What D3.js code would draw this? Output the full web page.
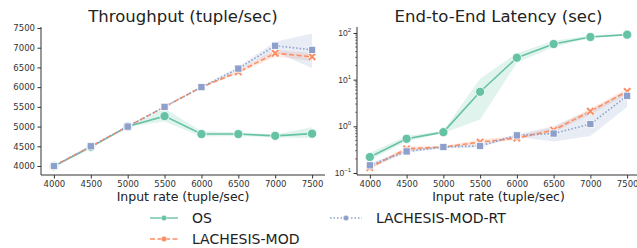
<!DOCTYPE html>
<html><head><meta charset="utf-8">
<script src="https://cdn.jsdelivr.net/npm/d3@7"></script>
<style>body{margin:0;background:#fff}svg{font-family:"DejaVu Sans",sans-serif}</style>
</head><body><svg id="c" width="637" height="248"></svg>
<script>
const rates = [4000,4500,5000,5500,6000,6500,7000,7500];
const seriesNames = ["OS","LACHESIS-MOD","LACHESIS-MOD-RT"];
// Throughput means and CI bounds
const tpOS    = [3995,4480,5000,5265,4810,4810,4765,4820];
const tpOSLo  = [3985,4470,4995,5130,4750,4760,4720,4710];
const tpOSHi  = [4005,4490,5005,5460,4880,4850,4800,4980];
const tpMod   = [4000,4495,5000,5500,6000,6385,6860,6770];
const tpModLo = [3995,4490,4995,5495,5990,6340,6780,6660];
const tpModHi = [4005,4500,5005,5505,6010,6430,6940,6860];
const tpRT    = [4000,4500,5000,5500,6000,6470,7050,6945];
const tpRTLo  = [3995,4495,4995,5495,5990,6420,6900,6480];
const tpRTHi  = [4005,4505,5005,5505,6010,6520,7150,7360];
// Latency means and CI bounds
const latOS    = [0.22,0.54,0.75,5.5,29.5,58,82,92];
const latOSLo  = [0.19,0.47,0.72,1.4,23,50,78,88];
const latOSHi  = [0.27,0.62,0.80,10.5,37,68,88,96];
const latMod   = [0.13,0.33,0.36,0.46,0.56,0.83,2.1,5.6];
const latModLo = [0.12,0.30,0.34,0.42,0.52,0.75,1.8,4.8];
const latModHi = [0.14,0.37,0.38,0.52,0.62,0.95,2.4,6.4];
const latRT    = [0.146,0.29,0.36,0.38,0.64,0.70,1.12,4.5];
const latRTLo  = [0.13,0.27,0.34,0.35,0.60,0.47,0.62,2.6];
const latRTHi  = [0.16,0.32,0.38,0.42,0.68,1.0,2.2,6.0];
const tpTicks = [4000,4500,5000,5500,6000,6500,7000,7500];
const latTicks = [0.1,1,10,100];

const colors = ["#66c2a5","#fc8d62","#8da0cb"];
const dashes = [null,"5,2.5","1.5,2"];
const svg = d3.select("#c");

function marker(g, kind, x, y, c, s) {
  if (kind===0) g.append("circle").attr("cx",x).attr("cy",y).attr("r",4.6*s).attr("fill",c).attr("stroke","#fff").attr("stroke-width",0.8);
  else if (kind===2) g.append("rect").attr("x",x-3.6*s).attr("y",y-3.6*s).attr("width",7.2*s).attr("height",7.2*s).attr("fill",c).attr("stroke","#fff").attr("stroke-width",0.8);
  else {
    const d=3.2*s;
    g.append("path").attr("d",`M${x-d},${y-d}L${x+d},${y+d}M${x-d},${y+d}L${x+d},${y-d}`).attr("stroke","#fff").attr("stroke-width",3.4*s).attr("stroke-linecap","butt");
    g.append("path").attr("d",`M${x-d},${y-d}L${x+d},${y+d}M${x-d},${y+d}L${x+d},${y-d}`).attr("stroke",c).attr("stroke-width",2.0*s);
  }
}

function panel(opts) {
  const {left,right,pTop,pBottom,y,title,data,log} = opts;
  const x = d3.scaleLinear().domain([3825,7675]).range([left,right]);
  const g = svg.append("g");
  data.forEach((d,i)=>{
    const area = d3.area().x((v,j)=>x(rates[j])).y0((v,j)=>y(d.lo[j])).y1((v,j)=>y(d.hi[j]));
    g.append("path").attr("d",area(rates)).attr("fill",colors[i]).attr("opacity",0.2);
  });
  data.forEach((d,i)=>{
    const line = d3.line().x((v,j)=>x(rates[j])).y(v=>y(v));
    g.append("path").attr("d",line(d.m)).attr("fill","none").attr("stroke",colors[i]).attr("stroke-width",1.6).attr("stroke-dasharray",dashes[i]);
  });
  data.forEach((d,i)=>{
    d.m.forEach((v,j)=>marker(g,i,x(rates[j]),y(v),colors[i],1));
  });
  const ax = svg.append("g").attr("transform",`translate(0,${pBottom})`)
    .call(d3.axisBottom(x).tickValues(rates).tickSize(3.5).tickPadding(2.5).tickFormat(d3.format("d")));
  const ay = svg.append("g").attr("transform",`translate(${left},0)`);
  if (!log) {
    ay.call(d3.axisLeft(y).tickValues(tpTicks).tickSize(3.5).tickPadding(2.5).tickFormat(d3.format("d")));
  } else {
    ay.call(d3.axisLeft(y).tickValues(latTicks).tickSize(3.5).tickPadding(2.5).tickFormat(""));
    const minor=[];
    for (let e=-2;e<=2;e++) for (let k=2;k<=9;k++){const v=k*Math.pow(10,e); if(v>=y.domain()[0]&&v<=y.domain()[1]) minor.push(v);}
    minor.forEach(v=>ay.append("line").attr("x1",0).attr("x2",-2).attr("y1",y(v)).attr("y2",y(v)).attr("stroke","#333").attr("stroke-width",0.6));
    latTicks.forEach(v=>{
      const e=Math.round(Math.log10(v));
      const t=ay.append("text").attr("x",-6).attr("y",y(v)+3).attr("text-anchor","end").attr("fill","#333").attr("font-size",8.5);
      t.append("tspan").text("10");
      t.append("tspan").attr("dy",-4).attr("font-size",6).text(e<0?"\u2212"+(-e):String(e));
    });
  }
  [ax,ay].forEach(a=>{
    a.selectAll("path.domain").attr("stroke","#333").attr("stroke-width",1);
    a.selectAll(".tick line").attr("stroke","#333");
    a.selectAll(".tick text").attr("fill","#333").attr("font-size",8.5).attr("font-family","DejaVu Sans");
  });
  ax.select("path.domain").attr("d",`M${left},0H${right}`);
  ay.select("path.domain").attr("d",`M0,${pTop}V${pBottom}`);
  svg.append("text").attr("x",(left+right)/2).attr("y",22).attr("text-anchor","middle").attr("font-size",16.5).attr("fill","#222").text(title);
  svg.append("text").attr("x",(left+right)/2).attr("y",201).attr("text-anchor","middle").attr("font-size",12.5).attr("fill","#222").text("Input rate (tuple/sec)");
}

const pTop=27,pBottom=175;
panel({left:41,right:325,pTop,pBottom,title:"Throughput (tuple/sec)",log:false,
  y:d3.scaleLinear().domain([3772,7525]).range([pBottom,pTop]),
  data:[{m:tpOS,lo:tpOSLo,hi:tpOSHi},{m:tpMod,lo:tpModLo,hi:tpModHi},{m:tpRT,lo:tpRTLo,hi:tpRTHi}]});
panel({left:357,right:640,pTop,pBottom,title:"End-to-End Latency (sec)",log:true,
  y:d3.scaleLog().domain([Math.pow(10,-1.043),Math.pow(10,2.128)]).range([pBottom,pTop]),
  data:[{m:latOS,lo:latOSLo,hi:latOSHi},{m:latMod,lo:latModLo,hi:latModHi},{m:latRT,lo:latRTLo,hi:latRTHi}]});

const leg = svg.append("g");
const legPos = [[150,218],[150,239],[330,218]];
seriesNames.forEach((n,i)=>{
  const [lx,ly]=legPos[i];
  const w = i===2?32:28;
  leg.append("line").attr("x1",lx).attr("x2",lx+w).attr("y1",ly).attr("y2",ly).attr("stroke",colors[i]).attr("stroke-width",1.4).attr("stroke-dasharray",dashes[i]);
  leg.append("circle").attr("cx",lx+w/2).attr("cy",ly).attr("r",2.8).attr("fill",colors[i]).attr("stroke","#fff").attr("stroke-width",0.5);
  leg.append("text").attr("x",lx+w+14).attr("y",ly+5).attr("font-size",14).attr("fill","#222").text(n);
});
</script></body></html>
